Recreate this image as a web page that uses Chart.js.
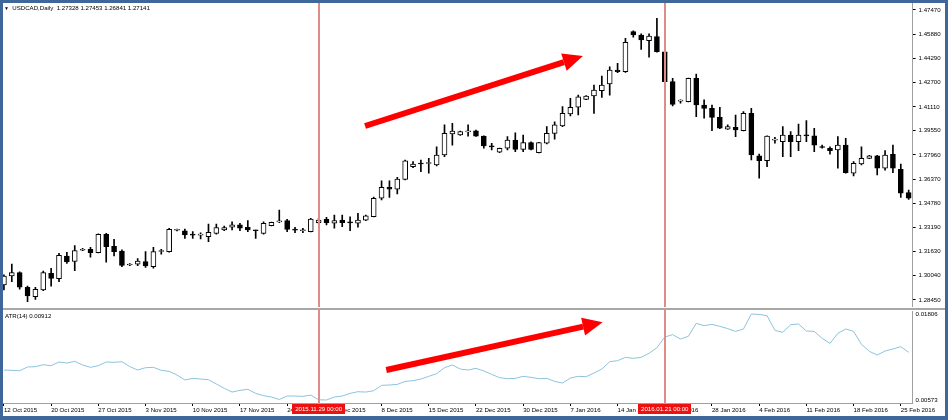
<!DOCTYPE html>
<html>
<head>
<meta charset="utf-8">
<script src="https://cdn.jsdelivr.net/npm/chart.js@4.4.1/dist/chart.umd.min.js"></script>
<style>
  html, body { margin: 0; padding: 0; background: #fff; }
  #wrap { position: relative; width: 948px; height: 420px; overflow: hidden; background: #fff; }
  #main { position: absolute; left: 0; top: 0; }
  #atr { position: absolute; left: 0; top: 310px; }
  #sep { position: absolute; left: 0; top: 308px; width: 948px; height: 2px; background: #a8a8a8; }
  #frame { position: absolute; left: 0; top: 0; width: 948px; height: 420px; box-sizing: border-box;
           border-style: solid; border-color: #3f679a; border-width: 3px 3px 4px 3px; pointer-events: none; }
  .lbl { position: absolute; font-family: "Liberation Sans", Arial, sans-serif; font-size: 6.1px;
         line-height: 8px; color: #000; white-space: pre; }
</style>
</head>
<body>
<div id="wrap">
  <canvas id="main" width="948" height="307"></canvas>
  <div id="sep"></div>
  <canvas id="atr" width="948" height="110"></canvas>
  <div class="lbl" style="left:4px; top:4px;"><span style="font-size:5px;">▼</span>  USDCAD,Daily  1.27328 1.27453 1.26841 1.27141</div>
  <div class="lbl" style="left:5px; top:312px;">ATR(14) 0.00912</div>
  <div id="frame"></div>
</div>
<script>
// daily bars (with sunday bars), MT4 style
const dates = [
  "2015.10.12","2015.10.13","2015.10.14","2015.10.15","2015.10.16","2015.10.19",
  "2015.10.20","2015.10.21","2015.10.22","2015.10.23","2015.10.25","2015.10.26",
  "2015.10.27","2015.10.28","2015.10.29","2015.10.30","2015.11.01","2015.11.02",
  "2015.11.03","2015.11.04","2015.11.05","2015.11.06","2015.11.08","2015.11.09",
  "2015.11.10","2015.11.11","2015.11.12","2015.11.13","2015.11.15","2015.11.16",
  "2015.11.17","2015.11.18","2015.11.19","2015.11.20","2015.11.22","2015.11.23",
  "2015.11.24","2015.11.25","2015.11.26","2015.11.27","2015.11.29","2015.11.30",
  "2015.12.01","2015.12.02","2015.12.03","2015.12.04","2015.12.06","2015.12.07",
  "2015.12.08","2015.12.09","2015.12.10","2015.12.11","2015.12.13","2015.12.14",
  "2015.12.15","2015.12.16","2015.12.17","2015.12.18","2015.12.20","2015.12.21",
  "2015.12.22","2015.12.23","2015.12.24","2015.12.27","2015.12.28","2015.12.29",
  "2015.12.30","2015.12.31","2016.01.03","2016.01.04","2016.01.05","2016.01.06",
  "2016.01.07","2016.01.08","2016.01.10","2016.01.11","2016.01.12","2016.01.13",
  "2016.01.14","2016.01.15","2016.01.17","2016.01.18","2016.01.19","2016.01.20",
  "2016.01.21","2016.01.22","2016.01.24","2016.01.25","2016.01.26","2016.01.27",
  "2016.01.28","2016.01.29","2016.01.31","2016.02.01","2016.02.02","2016.02.03",
  "2016.02.04","2016.02.05","2016.02.07","2016.02.08","2016.02.09","2016.02.10",
  "2016.02.11","2016.02.12","2016.02.14","2016.02.15","2016.02.16","2016.02.17",
  "2016.02.18","2016.02.19","2016.02.21","2016.02.22","2016.02.23","2016.02.24",
  "2016.02.25","2016.02.26"
];

const open = [
  1.2943,1.3002,1.3024,1.2928,1.2866,1.2910,1.3020,1.2984,1.3133,1.3098,
  1.3171,1.3177,1.3155,1.3276,1.3197,1.3166,1.3074,1.3079,1.3096,1.3063,
  1.3163,1.3162,1.3302,1.3299,1.3272,1.3270,1.3260,1.3282,1.3304,1.3322,
  1.3337,1.3322,1.3300,1.3282,1.3332,1.3357,1.3365,1.3305,1.3299,1.3293,
  1.3352,1.3374,1.3348,1.3369,1.3353,1.3348,1.3369,1.3391,1.3512,1.3584,
  1.3571,1.3636,1.3719,1.3743,1.3740,1.3730,1.3796,1.3934,1.3927,1.3948,
  1.3955,1.3920,1.3851,1.3814,1.3840,1.3894,1.3833,1.3877,1.3811,1.3873,
  1.3938,1.3986,1.4065,1.4109,1.4161,1.4183,1.4218,1.4262,1.4353,1.4342,
  1.4605,1.4583,1.4546,1.4572,1.4473,1.4277,1.4149,1.4146,1.4299,1.4124,
  1.4102,1.4043,1.3966,1.3978,1.3955,1.4069,1.3791,1.3758,1.3893,1.3883,
  1.3927,1.3883,1.3927,1.3921,1.3847,1.3840,1.3829,1.3861,1.3676,1.3737,
  1.3774,1.3791,1.3709,1.3800,1.3702,1.3549
];
const high = [
  1.3009,1.3081,1.3030,1.2936,1.2928,1.3035,1.3053,1.3151,1.3158,1.3201,
  1.3184,1.3190,1.3279,1.3282,1.3243,1.3173,1.3083,1.3116,1.3162,1.3190,
  1.3177,1.3315,1.3310,1.3310,1.3293,1.3286,1.3343,1.3343,1.3330,1.3358,
  1.3348,1.3365,1.3304,1.3358,1.3356,1.3435,1.3374,1.3322,1.3315,1.3381,
  1.3381,1.3387,1.3402,1.3402,1.3391,1.3413,1.3402,1.3520,1.3627,1.3627,
  1.3650,1.3763,1.3752,1.3763,1.3774,1.3850,1.3993,1.4004,1.3953,1.3993,
  1.3960,1.3921,1.3873,1.3842,1.3916,1.3942,1.3927,1.3883,1.3879,1.3982,
  1.4014,1.4113,1.4168,1.4189,1.4186,1.4255,1.4314,1.4375,1.4397,1.4561,
  1.4611,1.4590,1.4590,1.4693,1.4475,1.4299,1.4157,1.4301,1.4327,1.4157,
  1.4124,1.4109,1.3993,1.4058,1.4080,1.4102,1.3802,1.3922,1.3912,1.3982,
  1.3949,1.3999,1.4021,1.3971,1.3861,1.3850,1.3916,1.3905,1.3752,1.3850,
  1.3794,1.3794,1.3824,1.3861,1.3737,1.3566
];
const low = [
  1.2910,1.2965,1.2915,1.2833,1.2849,1.2906,1.2936,1.2965,1.3085,1.3037,
  1.3168,1.3125,1.3153,1.3092,1.3133,1.3063,1.3070,1.3070,1.3059,1.3053,
  1.3146,1.3159,1.3297,1.3249,1.3249,1.3245,1.3227,1.3276,1.3299,1.3304,
  1.3299,1.3293,1.3249,1.3276,1.3330,1.3352,1.3293,1.3286,1.3286,1.3291,
  1.3343,1.3337,1.3315,1.3325,1.3299,1.3322,1.3365,1.3389,1.3501,1.3518,
  1.3540,1.3632,1.3713,1.3686,1.3676,1.3724,1.3785,1.3861,1.3924,1.3920,
  1.3917,1.3840,1.3829,1.3811,1.3829,1.3817,1.3817,1.3829,1.3809,1.3868,
  1.3899,1.3982,1.4052,1.4058,1.4159,1.4069,1.4174,1.4189,1.4336,1.4338,
  1.4568,1.4489,1.4437,1.4471,1.4275,1.4117,1.4135,1.4144,1.4047,1.4037,
  1.3955,1.3968,1.3964,1.3916,1.3953,1.3763,1.3643,1.3719,1.3873,1.3785,
  1.3785,1.3824,1.3883,1.3817,1.3840,1.3802,1.3709,1.3676,1.3658,1.3730,
  1.3772,1.3665,1.3697,1.3680,1.3518,1.3505
];
const close = [
  1.3002,1.3024,1.2928,1.2871,1.2915,1.3024,1.2987,1.3138,1.3094,1.3168,
  1.3174,1.3155,1.3276,1.3194,1.3161,1.3072,1.3077,1.3100,1.3068,1.3162,
  1.3166,1.3308,1.3305,1.3271,1.3270,1.3271,1.3289,1.3319,1.3319,1.3337,
  1.3315,1.3304,1.3299,1.3348,1.3354,1.3359,1.3308,1.3303,1.3300,1.3376,
  1.3369,1.3352,1.3365,1.3352,1.3351,1.3369,1.3396,1.3512,1.3584,1.3571,
  1.3638,1.3758,1.3737,1.3737,1.3742,1.3796,1.3938,1.3953,1.3949,1.3950,
  1.3920,1.3855,1.3849,1.3840,1.3894,1.3833,1.3877,1.3833,1.3877,1.3938,
  1.3993,1.4069,1.4109,1.4178,1.4183,1.4222,1.4255,1.4353,1.4342,1.4535,
  1.4583,1.4550,1.4576,1.4473,1.4277,1.4128,1.4151,1.4299,1.4124,1.4102,
  1.4043,1.3971,1.3982,1.3960,1.4069,1.3796,1.3758,1.3920,1.3895,1.3927,
  1.3883,1.3927,1.3921,1.3861,1.3845,1.3824,1.3861,1.3680,1.3741,1.3774,
  1.3791,1.3709,1.3796,1.3709,1.3545,1.3512
];

const atr = [
  0.01003,0.00998,0.00993,0.01046,0.01051,0.01079,0.01065,0.01118,0.01103,0.01127,
  0.01075,0.01041,0.01065,0.01118,0.01113,0.01122,0.01051,0.01003,0.01036,0.01041,
  0.00998,0.00984,0.00931,0.00860,0.00883,0.00874,0.00864,0.00802,0.00740,0.00687,
  0.00711,0.00726,0.00668,0.00635,0.00616,0.00580,0.00630,0.00630,0.00625,0.00644,
  0.00576,0.00573,0.00616,0.00630,0.00668,0.00692,0.00687,0.00706,0.00783,0.00788,
  0.00797,0.00840,0.00850,0.00874,0.00912,0.00950,0.01036,0.01075,0.01017,0.01003,
  0.01027,0.00989,0.00941,0.00893,0.00879,0.00883,0.00912,0.00898,0.00879,0.00883,
  0.00840,0.00816,0.00888,0.00912,0.00907,0.00960,0.01017,0.01122,0.01137,0.01185,
  0.01170,0.01185,0.01242,0.01323,0.01476,0.01510,0.01447,0.01486,0.01672,0.01639,
  0.01658,0.01629,0.01596,0.01557,0.01591,0.01806,0.01800,0.01782,0.01572,0.01543,
  0.01653,0.01663,0.01562,0.01557,0.01457,0.01385,0.01529,0.01591,0.01557,0.01371,
  0.01271,0.01218,0.01275,0.01304,0.01338,0.01256
];

const priceTicks = [1.4747,1.4588,1.4429,1.4270,1.4111,1.3955,1.3796,1.3637,1.3478,1.3319,1.3163,1.3004,1.2845];
const atrTicks = [0.01806, 0.00573];
const markedBars = ["2015.11.29", "2016.01.21"];
const labelEvery = 6;
const months = ["Jan","Feb","Mar","Apr","May","Jun","Jul","Aug","Sep","Oct","Nov","Dec"];

// hand drawn arrows, [bar index, value]
const priceArrow = { from: [45.9, 1.3986], to: [73.6, 1.4445] };
const atrArrow = { from: [48.6, 0.01003], to: [76.1, 0.01687] };

Chart.defaults.font.family = "'Liberation Sans', Arial, sans-serif";
Chart.defaults.color = "#000";

const fmtDate = (d) => {
  const [y, m, dd] = d.split(".");
  return `${+dd} ${months[+m - 1]} ${y}`;
};

const drawArrow = (ctx, x1, y1, x2, y2) => {
  const ang = Math.atan2(y2 - y1, x2 - x1);
  const head = 20, half = 9;
  const bx = x2 - head * Math.cos(ang), by = y2 - head * Math.sin(ang);
  ctx.strokeStyle = "#ff0000";
  ctx.fillStyle = "#ff0000";
  ctx.lineWidth = 6;
  ctx.beginPath();
  ctx.moveTo(x1, y1);
  ctx.lineTo(bx, by);
  ctx.stroke();
  ctx.beginPath();
  ctx.moveTo(x2, y2);
  ctx.lineTo(bx + half * Math.sin(ang), by - half * Math.cos(ang));
  ctx.lineTo(bx - half * Math.sin(ang), by + half * Math.cos(ang));
  ctx.closePath();
  ctx.fill();
};

// vertical lines, arrows and the red date boxes
const overlay = {
  id: "overlay",
  afterDraw(chart, args, opts) {
    const { ctx, chartArea: a, scales: { x, y } } = chart;
    ctx.save();
    ctx.fillStyle = "#e08a8a";
    markedBars.forEach((d) => {
      const px = Math.round(x.getPixelForValue(dates.indexOf(d)));
      ctx.fillRect(px - 1, 0, 2, a.bottom + (opts.boxes ? 1 : 2));
    });
    const ar = opts.arrow;
    drawArrow(ctx, x.getPixelForValue(ar.from[0]), y.getPixelForValue(ar.from[1]),
                   x.getPixelForValue(ar.to[0]), y.getPixelForValue(ar.to[1]));
    if (opts.boxes) {
      ctx.font = "6.1px 'Liberation Sans', Arial, sans-serif";
      ctx.textAlign = "center";
      ctx.textBaseline = "middle";
      markedBars.forEach((d) => {
        const px = x.getPixelForValue(dates.indexOf(d));
        const txt = d + " 00:00";
        const w = ctx.measureText(txt).width + 6;
        ctx.fillStyle = "#ee1111";
        ctx.fillRect(Math.round(px - w / 2), a.bottom + 1, Math.round(w), 10);
        ctx.fillStyle = "#fff";
        ctx.fillText(txt, px, a.bottom + 6.5);
      });
    }
    ctx.restore();
  },
};

const bodyColors = open.map((o, i) => (close[i] >= o ? "#fff" : "#000"));
const axisFont = { size: 6.1 };

new Chart(document.getElementById("main"), {
  type: "bar",
  data: {
    labels: dates,
    datasets: [
      {
        label: "body",
        data: dates.map((d, i) => [open[i], close[i]]),
        backgroundColor: bodyColors,
        borderColor: "#000",
        borderWidth: 1,
        borderSkipped: false,
        barThickness: 5,
        minBarLength: 1,
        grouped: false,
        order: 0,
      },
      {
        label: "wick",
        data: dates.map((d, i) => [low[i], high[i]]),
        backgroundColor: "#000",
        borderWidth: 0,
        barThickness: 1,
        grouped: false,
        order: 1,
      },
    ],
  },
  options: {
    responsive: false,
    animation: false,
    devicePixelRatio: 1,
    layout: { padding: { top: 3, left: 0, right: 0, bottom: 0 } },
    plugins: { legend: { display: false }, tooltip: { enabled: false }, overlay: { arrow: priceArrow, boxes: false } },
    scales: {
      x: { display: false, offset: true },
      y: {
        position: "right",
        min: 1.27987,
        max: 1.47929,
        afterFit: (s) => { s.width = 35.4; s.paddingTop = 0; s.paddingBottom = 0; },
        afterBuildTicks: (s) => { s.ticks = priceTicks.map((v) => ({ value: v })); },
        ticks: { callback: (v) => v.toFixed(5), font: axisFont, padding: 3 },
        grid: { drawOnChartArea: false, tickLength: 3, color: "#000" },
        border: { color: "#a0a0a0" },
      },
    },
  },
  plugins: [overlay],
});

new Chart(document.getElementById("atr"), {
  type: "line",
  data: {
    labels: dates,
    datasets: [
      { label: "ATR(14)", data: atr, borderColor: "#8cc3de", borderWidth: 1, pointRadius: 0, tension: 0 },
    ],
  },
  options: {
    responsive: false,
    animation: false,
    devicePixelRatio: 1,
    layout: { padding: { top: 1, left: 0, right: 0, bottom: 0 } },
    plugins: { legend: { display: false }, tooltip: { enabled: false }, overlay: { arrow: atrArrow, boxes: true } },
    scales: {
      x: {
        offset: true,
        afterFit: (s) => { s.height = 17; s.paddingLeft = 0; s.paddingRight = 0; },
        afterBuildTicks: (s) => { s.ticks = s.ticks.filter((t) => t.value % labelEvery === 0); },
        ticks: {
          autoSkip: false,
          maxRotation: 0,
          align: "start",
          padding: 1,
          font: axisFont,
          callback: (v) => fmtDate(dates[v]),
        },
        grid: { drawOnChartArea: false, offset: false, tickLength: 3, color: "#000" },
        border: { color: "#a0a0a0" },
      },
      y: {
        position: "right",
        min: 0.0053,
        max: 0.01849,
        afterFit: (s) => { s.width = 35.4; s.paddingTop = 0; s.paddingBottom = 0; },
        afterBuildTicks: (s) => { s.ticks = atrTicks.map((v) => ({ value: v })); },
        ticks: { callback: (v) => v.toFixed(5), font: axisFont, padding: 3 },
        grid: { display: false, drawTicks: false },
        border: { display: true, color: "#a0a0a0" },
      },
    },
  },
  plugins: [overlay],
});
</script>
</body>
</html>
